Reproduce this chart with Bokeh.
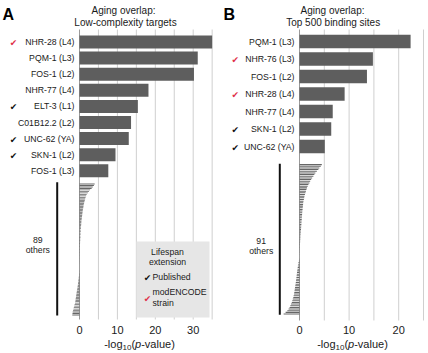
from bokeh.plotting import figure
from bokeh.layouts import row
from bokeh.models import Range1d
from bokeh.core.properties import value
from bokeh.embed import file_html
from bokeh.resources import INLINE

# ---------------- data ----------------
a_letter = "A"
a_title = ["Aging overlap:", "Low-complexity targets"]
a_labels = ["NHR-28 (L4)", "PQM-1 (L3)", "FOS-1 (L2)", "NHR-77 (L4)", "ELT-3 (L1)",
            "C01B12.2 (L2)", "UNC-62 (YA)", "SKN-1 (L2)", "FOS-1 (L3)"]
a_values = [35.0, 31.2, 30.2, 18.2, 15.4, 13.6, 13.0, 9.5, 7.6]
a_marks = ["modENCODE", "", "", "", "Published", "", "Published", "Published", ""]
a_others = [4.0, 3.8, 3.5, 3.2, 2.8, 2.5, 2.2, 1.9, 1.75, 1.6,
            1.5, 1.4, 1.3, 1.2, 1.1, 1.05, 1.0, 0.9, 0.85, 0.8,
            0.75, 0.7, 0.65, 0.6, 0.55, 0.5, 0.48, 0.45, 0.42, 0.4,
            0.37, 0.34, 0.32, 0.3, 0.27, 0.25, 0.22, 0.2, 0.18, 0.16,
            0.14, 0.12, 0.11, 0.1, 0.09, 0.08, 0.07, 0.06, 0.05, 0.04,
            0.03, 0.03, 0.02, 0.02, 0.01, 0.01, 0.0, 0.0, -0.02, -0.05,
            -0.08, -0.12, -0.16, -0.2, -0.25, -0.3, -0.35, -0.4, -0.45, -0.5,
            -0.56, -0.62, -0.7, -0.76, -0.82, -0.88, -0.94, -1.0, -1.05, -1.1,
            -1.2, -1.3, -1.4, -1.5, -1.6, -1.7, -1.8, -1.85, -1.9]
a_others_label = ["89", "others"]
a_ticks = [0, 10, 20, 30]
a_grid = [5, 10, 15, 20, 25, 30, 35]

b_letter = "B"
b_title = ["Aging overlap:", "Top 500 binding sites"]
b_labels = ["PQM-1 (L3)", "NHR-76 (L3)", "FOS-1 (L2)", "NHR-28 (L4)", "NHR-77 (L4)",
            "SKN-1 (L2)", "UNC-62 (YA)"]
b_values = [22.4, 14.8, 13.6, 9.1, 6.7, 6.4, 5.1]
b_marks = ["", "modENCODE", "", "modENCODE", "", "Published", "Published"]
b_others = [4.5, 4.3, 4.0, 3.8, 3.5, 3.2, 3.0, 2.8, 2.55, 2.35,
            2.15, 2.0, 1.8, 1.65, 1.5, 1.4, 1.3, 1.2, 1.1, 1.0,
            0.95, 0.88, 0.8, 0.75, 0.72, 0.68, 0.65, 0.62, 0.58, 0.55,
            0.52, 0.5, 0.47, 0.45, 0.42, 0.4, 0.38, 0.35, 0.33, 0.3,
            0.28, 0.25, 0.22, 0.2, 0.18, 0.16, 0.14, 0.12, 0.1, 0.08,
            0.06, 0.05, 0.04, 0.03, 0.02, 0.01, 0.0, -0.05, -0.12, -0.2,
            -0.26, -0.32, -0.36, -0.4, -0.45, -0.5, -0.54, -0.58, -0.62, -0.66,
            -0.7, -0.75, -0.8, -0.85, -0.9, -0.95, -1.0, -1.05, -1.1, -1.18,
            -1.25, -1.35, -1.45, -1.55, -1.7, -1.85, -2.0, -2.2, -2.45, -2.8, -3.2]
b_others_label = ["91", "others"]
b_ticks = [0, 10, 20]
b_grid = [5, 10, 15, 20, 25]

legend_title = ["Lifespan", "extension"]
legend_items = ["Published", "modENCODE\nstrain"]

# ---------------- style ----------------
FONT = value("Liberation Sans")
TXT = "#1a1a1a"
BAR = "#5e5e5e"
GRID = "#cfcfcf"
ZERO = "#9a9a9a"
RED = "#e0304a"
CHECK = "\u2714"
W, H = 214, 353

cfgA = dict(x0=79.0, ppu=3.79, row0=41.5, rowh=16.1, barh=13.0,
            ostart=182.7, ostep=1.49, gtop=29, gbot=319,
            lab_gap=5, check_x=13, title_x=[123, 125], letter_x=2,
            br_x=56.7, br_top=181.7, br_bot=315, br_text_x=37.3, br_text_y=[239.3, 249.3],
            xl_center=139, legend=True)
cfgB = dict(x0=85.0, ppu=4.96, row0=41.0, rowh=17.5, barh=13.5,
            ostart=163.3, ostep=1.66, gtop=29, gbot=320,
            lab_gap=5, check_x=20.7, title_x=[118, 118.7], letter_x=9,
            br_x=65.3, br_top=163.3, br_bot=314.3, br_text_x=46.7, br_text_y=[240, 250],
            xl_center=138, legend=False)


def panel(letter, title, labels, vals, marks, others, olabel, ticks, grid, c):
    x0, ppu = c["x0"], c["ppu"]

    def X(px):
        return (px - x0) / ppu

    p = figure(width=W, height=H, output_backend="svg", toolbar_location=None,
               x_range=Range1d(X(0), X(W)), y_range=Range1d(H, 0),
               x_axis_type=None, y_axis_type=None, min_border=0,
               outline_line_color=None, background_fill_color="white",
               border_fill_color="white")

    # grid
    p.segment(x0=grid, x1=grid, y0=[c["gtop"]] * len(grid), y1=[c["gbot"]] * len(grid),
              line_color=GRID, line_width=1)
    p.segment(x0=[0], x1=[0], y0=[c["gtop"]], y1=[c["gbot"]], line_color=ZERO, line_width=1)

    # named bars
    ys = [c["row0"] + c["rowh"] * i for i in range(len(vals))]
    p.hbar(y=ys, left=0, right=vals, height=c["barh"], fill_color=BAR, line_color=None)
    p.text(x=[X(x0 - c["lab_gap"])] * len(labels), y=ys, text=labels, text_align="right",
           text_baseline="middle", text_font=FONT, text_font_size="8.7px", text_color=TXT)
    for yy, m in zip(ys, marks):
        if m:
            p.text(x=[X(c["check_x"])], y=[yy + 1], text=[CHECK], text_align="center",
                   text_baseline="middle", text_font=value("DejaVu Sans"),
                   text_font_size="9px",
                   text_color=RED if m == "modENCODE" else "#111111")

    # other bars
    oys = [c["ostart"] + c["ostep"] * (j + 0.5) for j in range(len(others))]
    p.hbar(y=oys, left=0, right=others, height=c["ostep"] * 0.62,
           fill_color="#666666", line_color=None)
    p.segment(x0=[X(c["br_x"])], x1=[X(c["br_x"])], y0=[c["br_top"]], y1=[c["br_bot"]],
              line_color="#111111", line_width=2)
    p.text(x=[X(c["br_text_x"])] * 2, y=c["br_text_y"], text=olabel, text_align="center",
           text_baseline="middle", text_font=FONT, text_font_size="8.7px", text_color=TXT)

    # titles
    p.text(x=[X(c["title_x"][0]), X(c["title_x"][1])], y=[10, 21.7], text=title,
           text_align="center", text_baseline="middle", text_font=FONT,
           text_font_size="10px", text_color=TXT)
    p.text(x=[X(c["letter_x"])], y=[14], text=[letter], text_align="left",
           text_baseline="middle", text_font=FONT, text_font_size="16px",
           text_font_style="bold", text_color="#000000")

    # x tick labels
    p.text(x=ticks, y=[329] * len(ticks), text=[str(t) for t in ticks], text_align="center",
           text_baseline="middle", text_font=FONT, text_font_size="11px", text_color=TXT)

    # x axis label: -log10(p-value)
    fs, fsub = 11, 8
    w1 = 1.667 * fs
    w2 = 1.112 * fsub
    w3 = 0.333 * fs
    w4 = 0.556 * fs
    w5 = 3.056 * fs
    start = c["xl_center"] - (w1 + w2 + w3 + w4 + w5) / 2
    base = 343
    parts = [("-log", fs, "normal", 0), ("10", fsub, "normal", 3.5), ("(", fs, "normal", 0),
             ("p", fs, "italic", 0), ("-value)", fs, "normal", 0)]
    widths = [w1, w2, w3, w4, w5]
    xx = start
    for (t, f, st, dy), w in zip(parts, widths):
        p.text(x=[X(xx)], y=[base + dy], text=[t], text_align="left",
               text_baseline="alphabetic", text_font=FONT, text_font_size=f"{f}px",
               text_font_style=st, text_color=TXT)
        xx += w

    if c["legend"]:
        p.quad(left=[X(136)], right=[X(209)], top=[241], bottom=[317],
               fill_color="#e6e6e6", line_color=None)
        p.text(x=[X(167)] * 2, y=[251, 261], text=legend_title, text_align="center",
               text_baseline="middle", text_font=FONT, text_font_size="8.7px", text_color=TXT)
        p.text(x=[X(147)], y=[277], text=[CHECK], text_align="center",
               text_baseline="middle", text_font=value("DejaVu Sans"), text_font_size="9px",
               text_color="#111111")
        p.text(x=[X(152)], y=[276], text=[legend_items[0]], text_align="left",
               text_baseline="middle", text_font=FONT, text_font_size="8.7px", text_color=TXT)
        p.text(x=[X(147)], y=[298], text=[CHECK], text_align="center",
               text_baseline="middle", text_font=value("DejaVu Sans"), text_font_size="9px",
               text_color=RED)
        p.text(x=[X(152)] * 2, y=[291, 302], text=legend_items[1].split("\n"),
               text_align="left", text_baseline="middle", text_font=FONT,
               text_font_size="8.7px", text_color=TXT)
    return p


pA = panel(a_letter, a_title, a_labels, a_values, a_marks, a_others, a_others_label,
           a_ticks, a_grid, cfgA)
pB = panel(b_letter, b_title, b_labels, b_values, b_marks, b_others, b_others_label,
           b_ticks, b_grid, cfgB)

layout = row(pA, pB, spacing=0)
open("out.html", "w").write(file_html(layout, INLINE))
